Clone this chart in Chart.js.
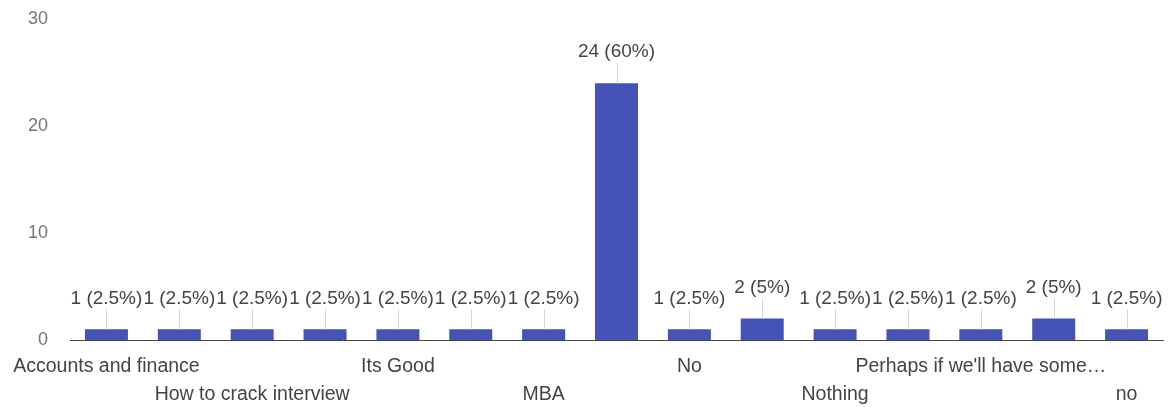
<!DOCTYPE html>
<html>
<head>
<meta charset="utf-8">
<script src="https://cdn.jsdelivr.net/npm/chart.js@4/dist/chart.umd.min.js"></script>
<style>
  html, body { margin: 0; padding: 0; background: #fff; }
  #wrap { width: 1174px; height: 407px; position: relative; }
</style>
</head>
<body>
<div id="wrap"><canvas id="c" width="1174" height="407"></canvas></div>
<script>
// Categories (labels that are not legible in the reference are left blank)
const categories = [
  "Accounts and finance", "", "How to crack interview", "", "Its Good", "",
  "MBA", "", "No", "", "Nothing", "", "Perhaps if we'll have some\u2026", "", "no"
];
const responses = [1, 1, 1, 1, 1, 1, 1, 24, 1, 2, 1, 1, 1, 2, 1];
const yTicks = [0, 10, 20, 30];

const total = responses.reduce((a, b) => a + b, 0);

const FONT = "'Liberation Sans', Arial, sans-serif";

const annotate = {
  id: 'annotate',
  afterDatasetsDraw(chart) {
    const ctx = chart.ctx;
    const meta = chart.getDatasetMeta(0);
    ctx.save();
    meta.data.forEach((bar, i) => {
      const v = responses[i];
      const pct = Math.round(v / total * 1000) / 10;
      const txt = v + ' (' + pct + '%)';
      ctx.strokeStyle = '#d6d6d6';
      ctx.lineWidth = 1;
      ctx.beginPath();
      ctx.moveTo(Math.round(bar.x) + 0.5, bar.y);
      ctx.lineTo(Math.round(bar.x) + 0.5, bar.y - 20);
      ctx.stroke();
      ctx.font = '19px ' + FONT;
      ctx.fillStyle = '#444';
      ctx.textAlign = 'center';
      ctx.textBaseline = 'middle';
      ctx.fillText(txt, bar.x, bar.y - 31);
    });
    ctx.restore();
  }
};

new Chart(document.getElementById('c'), {
  type: 'bar',
  data: {
    labels: categories,
    datasets: [{
      data: responses,
      backgroundColor: '#4553b6',
      barPercentage: 0.59,
      categoryPercentage: 1.0
    }]
  },
  options: {
    responsive: false,
    animation: false,
    events: [],
    layout: { autoPadding: false, padding: { top: 19, right: 11, left: 0, bottom: 0 } },
    plugins: { legend: { display: false }, tooltip: { enabled: false } },
    scales: {
      x: {
        grid: { display: false, drawTicks: false },
        border: { display: true, color: '#444', width: 1 },
        ticks: {
          autoSkip: false,
          maxRotation: 0,
          padding: 12,
          color: '#444',
          font: { family: FONT, size: 19.5, lineHeight: 1.45 },
          callback: function (val, idx) {
            const lab = categories[idx];
            if (idx % 4 === 0) return lab;
            if (idx % 4 === 2) return ['', lab];
            return '';
          }
        },
        afterFit: s => { s.height = 67; s.paddingLeft = 0; s.paddingRight = 0; }
      },
      y: {
        min: 0, max: 30,
        grid: { display: false, drawTicks: false },
        border: { display: false },
        afterBuildTicks: s => { s.ticks = yTicks.map(v => ({ value: v })); },
        ticks: {
          padding: 22,
          color: '#757575',
          font: { family: FONT, size: 18 }
        },
        afterFit: s => { s.width = 70; s.paddingTop = 0; s.paddingBottom = 0; }
      }
    }
  },
  plugins: [annotate]
});
</script>
</body>
</html>
